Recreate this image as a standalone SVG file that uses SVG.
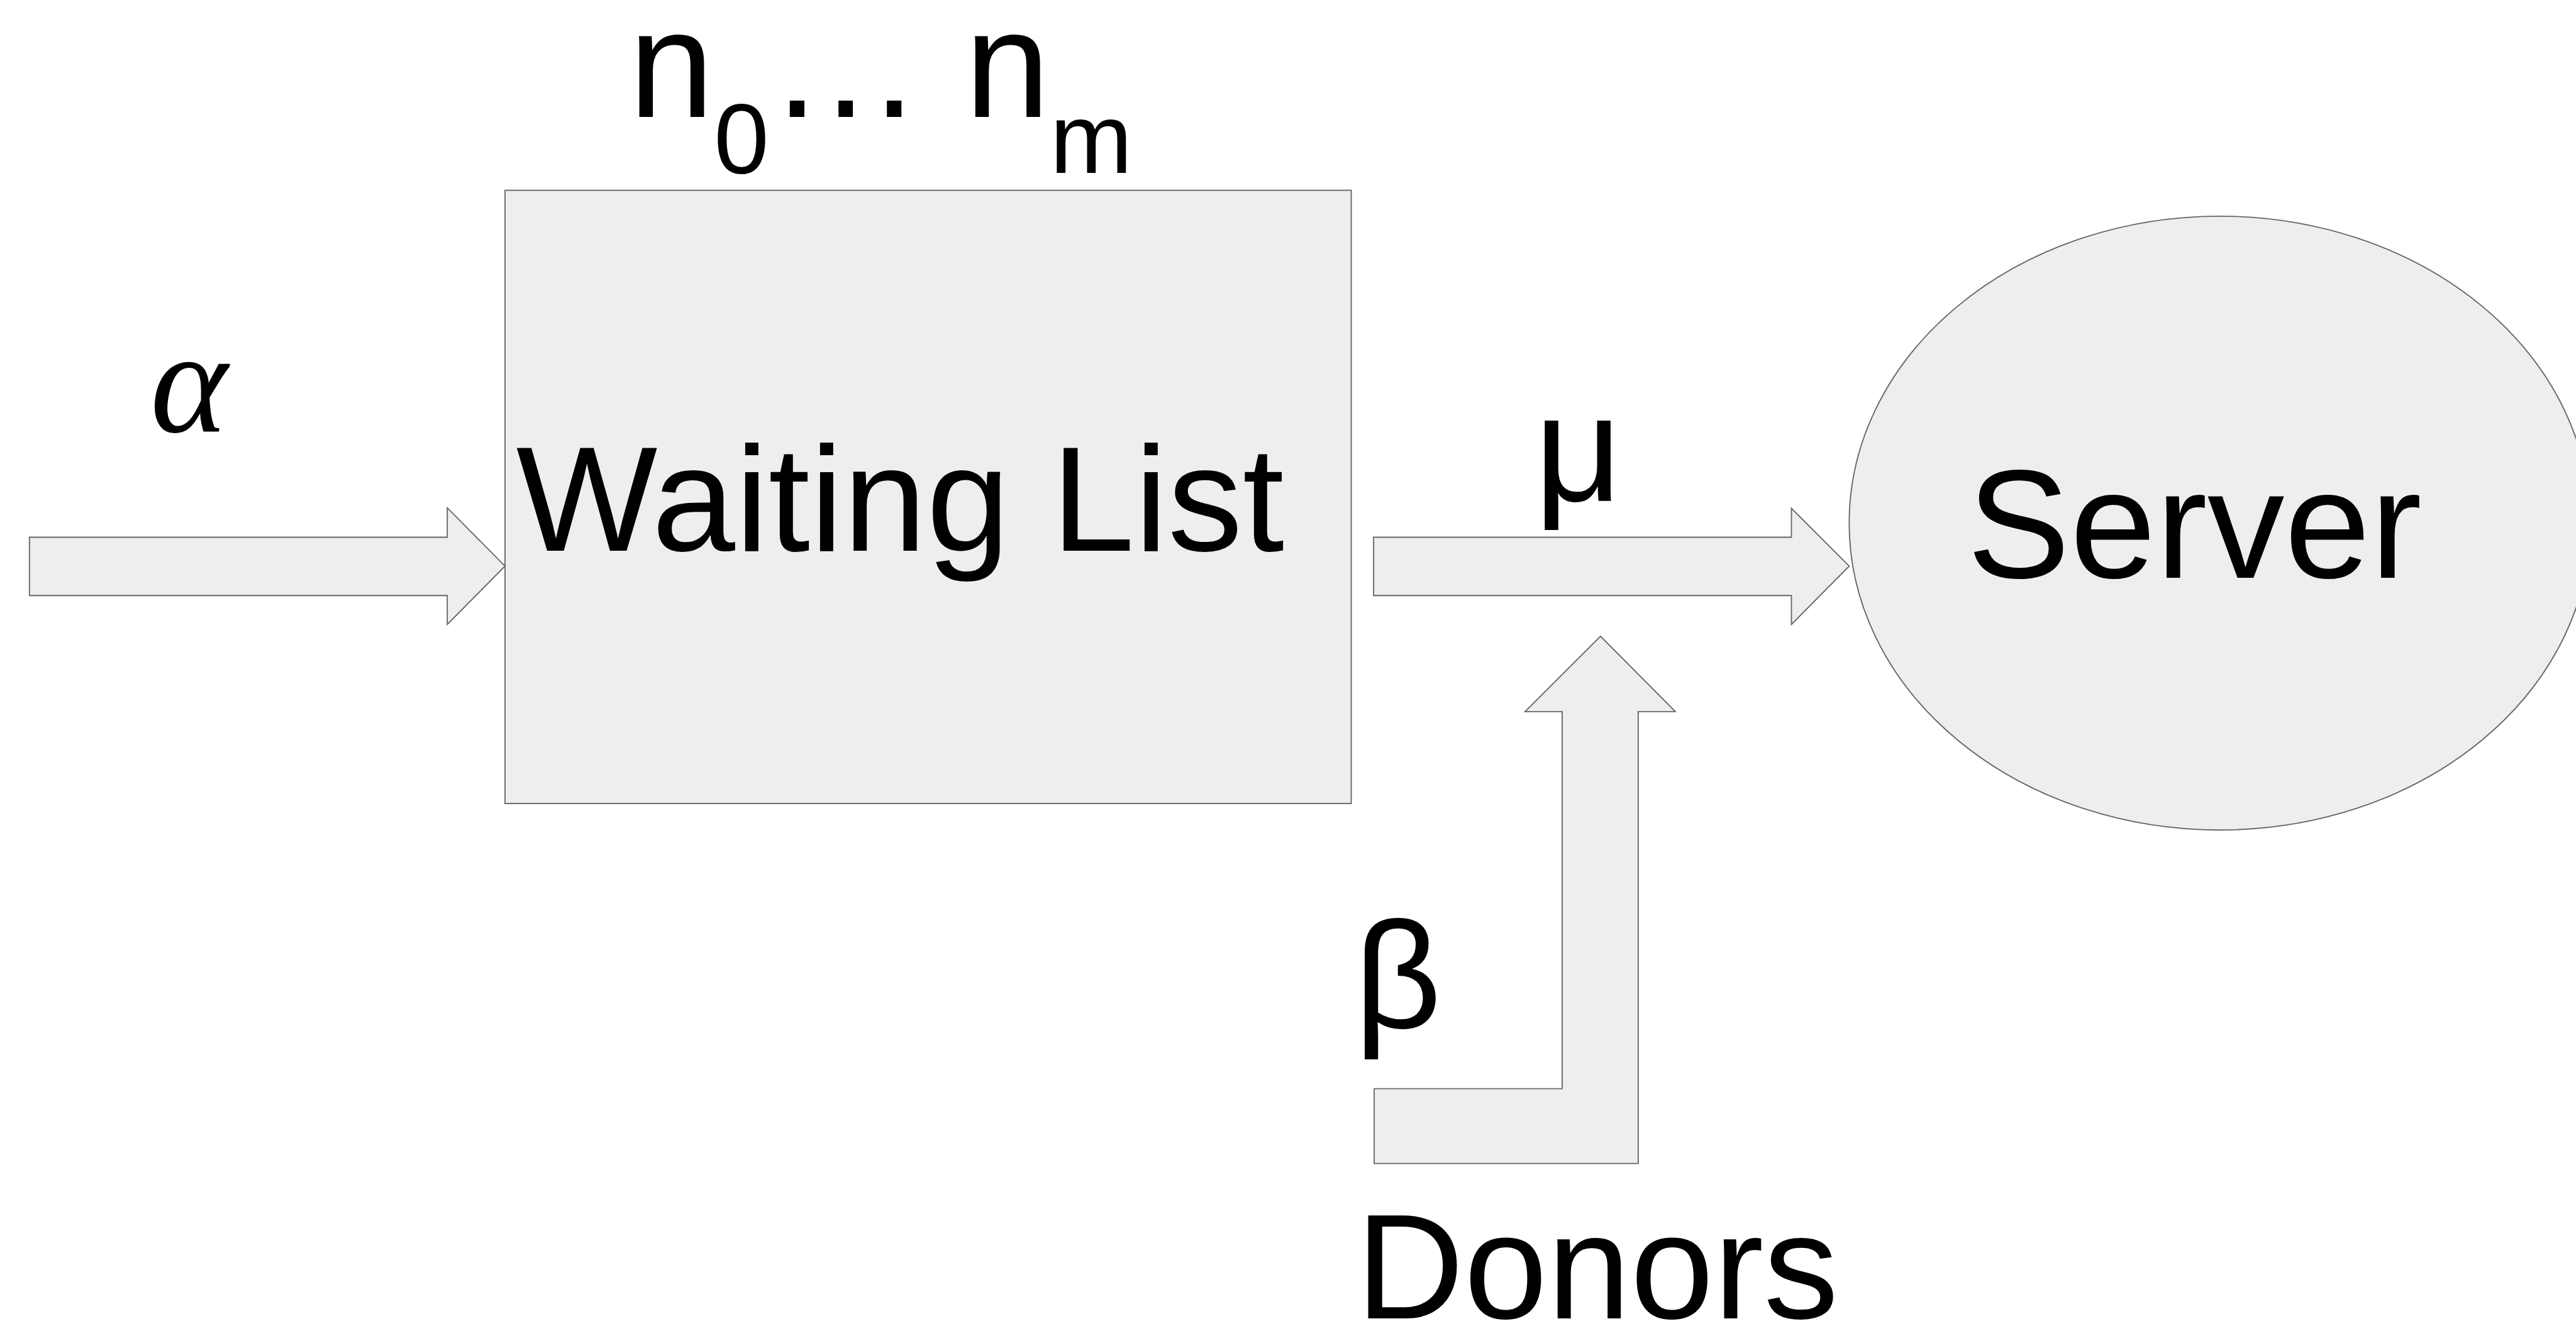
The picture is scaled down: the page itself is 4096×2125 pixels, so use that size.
<svg xmlns="http://www.w3.org/2000/svg" width="4096" height="2125" viewBox="0 0 4096 2125">
  <style>
    .shape { fill: #eeeeee; stroke: #666666; stroke-width: 2; stroke-linejoin: miter; }
    .lbl { font-family: "Liberation Sans", Arial, sans-serif; fill: #000000; }
    .math { font-family: "Liberation Serif", "Times New Roman", serif; font-style: italic; fill: #000000; }
  </style>
  <rect width="4096" height="2125" fill="#ffffff"/>
  <g transform="scale(0.937)">
    <g id="connectors">
      <!-- arrivals into the waiting list -->
      <polygon id="arrow-arrivals" class="shape" points="50,912 759,912 759,862 857,961 759,1060 759,1011 50,1011"/>
      <!-- service flow from waiting list to server -->
      <polygon id="arrow-service" class="shape" points="2331,912 3040,912 3040,863 3138,961 3040,1060 3040,1011 2331,1011"/>
      <!-- bent arrow bringing donors up into the service flow -->
      <polygon id="arrow-donors" class="shape" points="2332,1848 2651,1848 2651,1208 2588,1208 2716,1080 2843,1208 2780,1208 2780,1975 2332,1975"/>
    </g>
    <g id="waiting-list">
      <rect class="shape" x="857" y="323" width="1436" height="1041"/>
      <text class="lbl" x="876" y="935" font-size="254">Waiting List</text>
    </g>
    <g id="server">
      <ellipse class="shape" cx="3767" cy="888" rx="629" ry="521"/>
      <text class="lbl" x="3338" y="981" font-size="262">Server</text>
    </g>
    <g id="labels">
      <text class="lbl" x="1067" y="198" font-size="260">n<tspan font-size="168" dy="96">0</tspan><tspan dy="-96">…</tspan> n<tspan font-size="168" dy="96">m</tspan></text>
      <text class="math" x="255" y="733" font-size="250">α</text>
      <text class="lbl" x="2604" y="851" font-size="258">μ</text>
      <text class="lbl" x="2298" y="1745" font-size="258">β</text>
      <text class="lbl" x="2301" y="2238" font-size="254">Donors</text>
    </g>
  </g>
</svg>
